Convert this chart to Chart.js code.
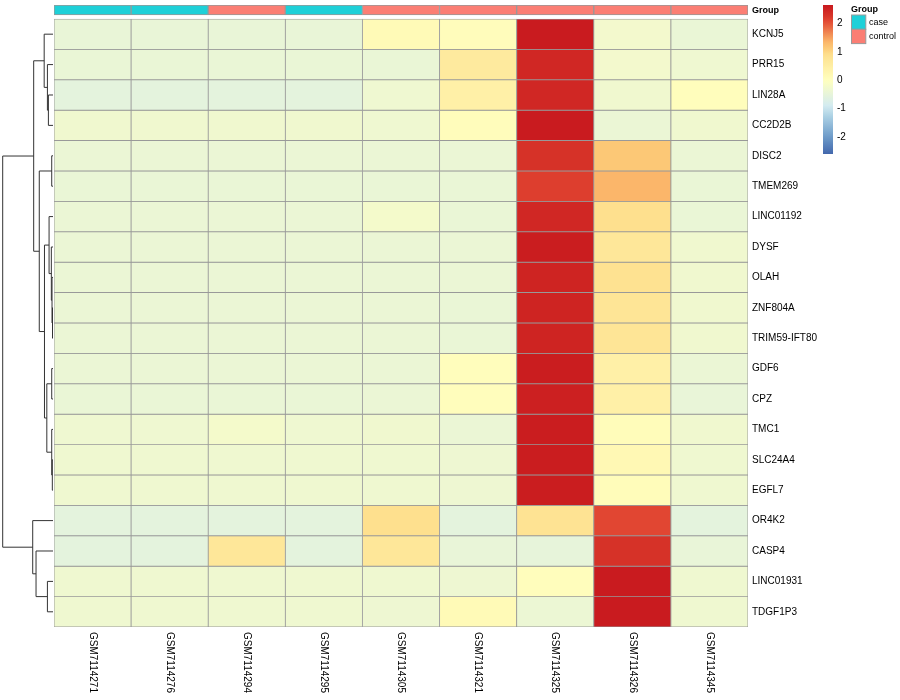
<!DOCTYPE html>
<html>
<head>
<meta charset="utf-8">
<script src="https://cdn.jsdelivr.net/npm/chart.js@4/dist/chart.umd.min.js"></script>
<style>html,body{margin:0;padding:0;background:#fff;}</style>
</head>
<body>
<canvas id="heat-canvas" width="900" height="700"></canvas>
<script>
'use strict';
var samples = ['GSM7114271', 'GSM7114276', 'GSM7114294', 'GSM7114295', 'GSM7114305',
               'GSM7114321', 'GSM7114325', 'GSM7114326', 'GSM7114345'];
var groups = ['case', 'case', 'control', 'case', 'control', 'control', 'control', 'control', 'control'];
var genes = ['KCNJ5', 'PRR15', 'LIN28A', 'CC2D2B', 'DISC2', 'TMEM269', 'LINC01192', 'DYSF', 'OLAH',
             'ZNF804A', 'TRIM59-IFT80', 'GDF6', 'CPZ', 'TMC1', 'SLC24A4', 'EGFL7', 'OR4K2', 'CASP4',
             'LINC01931', 'TDGF1P3'];

// row-scaled expression, one array per gene, same order as samples
var KCNJ5      = [-0.44, -0.44, -0.44, -0.44,  0.15,  0.08,  2.62, -0.25, -0.42];
var PRR15      = [-0.42, -0.42, -0.42, -0.42, -0.42,  0.60,  2.45, -0.25, -0.33];
var LIN28A     = [-0.55, -0.55, -0.55, -0.55, -0.33,  0.45,  2.45, -0.30,  0.05];
var CC2D2B     = [-0.30, -0.30, -0.30, -0.30, -0.33,  0.08,  2.62, -0.40, -0.30];
var DISC2      = [-0.40, -0.40, -0.40, -0.40, -0.40, -0.40,  2.30,  1.15, -0.40];
var TMEM269    = [-0.42, -0.42, -0.42, -0.42, -0.42, -0.42,  2.18,  1.35, -0.42];
var LINC01192  = [-0.40, -0.40, -0.40, -0.40, -0.22, -0.42,  2.45,  0.90, -0.42];
var DYSF       = [-0.40, -0.40, -0.40, -0.40, -0.40, -0.40,  2.60,  0.70, -0.30];
var OLAH       = [-0.40, -0.40, -0.40, -0.40, -0.40, -0.40,  2.50,  0.85, -0.30];
var ZNF804A    = [-0.40, -0.40, -0.40, -0.40, -0.40, -0.42,  2.50,  0.75, -0.30];
var TRIM59     = [-0.40, -0.40, -0.40, -0.40, -0.40, -0.42,  2.50,  0.75, -0.30];
var GDF6       = [-0.40, -0.40, -0.40, -0.40, -0.40,  0.05,  2.60,  0.45, -0.40];
var CPZ        = [-0.42, -0.42, -0.42, -0.42, -0.40,  0.05,  2.55,  0.45, -0.45];
var TMC1       = [-0.33, -0.33, -0.22, -0.33, -0.30, -0.40,  2.60,  0.10, -0.30];
var SLC24A4    = [-0.32, -0.32, -0.32, -0.32, -0.32, -0.35,  2.60,  0.20, -0.32];
var EGFL7      = [-0.32, -0.32, -0.32, -0.32, -0.32, -0.35,  2.60,  0.10, -0.32];
var OR4K2      = [-0.55, -0.55, -0.55, -0.55,  0.90, -0.55,  0.80,  2.10, -0.55];
var CASP4      = [-0.55, -0.55,  0.70, -0.55,  0.70, -0.45, -0.50,  2.30, -0.45];
var LINC01931  = [-0.32, -0.32, -0.32, -0.32, -0.32, -0.35,  0.05,  2.62, -0.32];
var TDGF1P3    = [-0.32, -0.32, -0.32, -0.32, -0.35,  0.15, -0.38,  2.62, -0.32];
var values = [KCNJ5, PRR15, LIN28A, CC2D2B, DISC2, TMEM269, LINC01192, DYSF, OLAH, ZNF804A,
              TRIM59, GDF6, CPZ, TMC1, SLC24A4, EGFL7, OR4K2, CASP4, LINC01931, TDGF1P3];

// row dendrogram: [left, right, height], leaves are row indices
var rowTree = [
  [[0, [1, [2, 3, 4.7], 5.7], 9.0],
   [[4, 5, 1.3],
    [[6, [7, [8, [9, 10, 0.5], 1.0], 1.7], 4.0],
     [[11, 12, 1.3], [13, [14, 15, 0.7], 1.3], 6.3], 8.7], 14.0], 19.7],
  [16, [17, [18, 19, 5.7], 17.3], 20.7],
  51.3];

var legendTicks = [2, 1, 0, -1, -2];
var legendMin = -2.6, legendMax = 2.65;

var groupColors = { 'case': '#1ed0d8', 'control': '#fb7e74' };
var paletteStops = [
  [-2.65, [63, 99, 170]],
  [-2.0, [109, 155, 201]],
  [-1.3, [169, 207, 227]],
  [-0.9, [211, 235, 240]],
  [0.0, [255, 255, 191]],
  [0.9, [254, 224, 142]],
  [1.15, [252, 200, 118]],
  [1.35, [251, 182, 106]],
  [2.1, [225, 70, 50]],
  [2.3, [214, 50, 40]],
  [2.65, [200, 25, 30]]
];

function colorFor(v) {
  var s = paletteStops;
  if (v <= s[0][0]) return 'rgb(' + s[0][1].join(',') + ')';
  for (var i = 1; i < s.length; i++) {
    if (v <= s[i][0]) {
      var t = (v - s[i - 1][0]) / (s[i][0] - s[i - 1][0]);
      var c = s[i - 1][1].map(function(a, k) { return Math.round(a + (s[i][1][k] - a) * t); });
      return 'rgb(' + c.join(',') + ')';
    }
  }
  return 'rgb(' + s[s.length - 1][1].join(',') + ')';
}

var FONT = '"Liberation Sans", Arial, sans-serif';

var datasets = genes.map(function(g, i) {
  return {
    label: g,
    data: samples.map(function() { return [i, i + 1]; }),
    backgroundColor: values[i].map(colorFor),
    borderColor: '#999999',
    borderWidth: 0.8,
    borderSkipped: false,
    grouped: false,
    barPercentage: 1,
    categoryPercentage: 1
  };
});
datasets.push({
  label: 'Group',
  data: samples.map(function() { return [-0.46, -0.13]; }),
  backgroundColor: groups.map(function(g) { return groupColors[g]; }),
  borderColor: '#999999',
  borderWidth: 1,
  borderSkipped: false,
  grouped: false,
  barPercentage: 1,
  categoryPercentage: 1
});

var decorations = {
  id: 'decorations',
  afterDraw: function(chart) {
    var ctx = chart.ctx, area = chart.chartArea;
    var xs = chart.scales.x, ys = chart.scales.y;
    ctx.save();
    ctx.fillStyle = '#000';

    // row labels
    ctx.font = '10px ' + FONT;
    ctx.textAlign = 'left';
    ctx.textBaseline = 'middle';
    genes.forEach(function(g, i) {
      ctx.fillText(g, area.right + 4, ys.getPixelForValue(i + 0.5));
    });
    ctx.font = 'bold 9px ' + FONT;
    ctx.fillText('Group', area.right + 4, ys.getPixelForValue(-0.295));

    // column labels, reading downwards
    ctx.font = '10px ' + FONT;
    samples.forEach(function(s, j) {
      ctx.save();
      ctx.translate(xs.getPixelForValue(j), area.bottom + 5);
      ctx.rotate(Math.PI / 2);
      ctx.textAlign = 'left';
      ctx.textBaseline = 'middle';
      ctx.fillText(s, 0, 0);
      ctx.restore();
    });

    // dendrogram
    var leafX = area.left - 1;
    var k = (leafX - 2.7) / rowTree[2];
    ctx.strokeStyle = '#333';
    ctx.lineWidth = 1;
    ctx.beginPath();
    (function walk(node) {
      if (typeof node === 'number') return { x: leafX, y: ys.getPixelForValue(node + 0.5) };
      var a = walk(node[0]), b = walk(node[1]);
      var x = leafX - node[2] * k;
      ctx.moveTo(a.x, a.y); ctx.lineTo(x, a.y);
      ctx.lineTo(x, b.y); ctx.lineTo(b.x, b.y);
      return { x: x, y: (a.y + b.y) / 2 };
    })(rowTree);
    ctx.stroke();

    // colour legend
    var barX = 823, barW = 10, barTop = 5, barBot = 154;
    var ppu = (barBot - barTop) / (legendMax - legendMin);
    var grad = ctx.createLinearGradient(0, barTop, 0, barBot);
    for (var n = 0; n <= 40; n++) {
      var v = legendMax - (legendMax - legendMin) * n / 40;
      grad.addColorStop(n / 40, colorFor(v));
    }
    ctx.fillStyle = grad;
    ctx.fillRect(barX, barTop, barW, barBot - barTop);
    ctx.fillStyle = '#000';
    ctx.font = '10px ' + FONT;
    ctx.textAlign = 'left';
    ctx.textBaseline = 'middle';
    legendTicks.forEach(function(t) {
      ctx.fillText(String(t), barX + 14, barTop + (legendMax - t) * ppu);
    });

    // group legend
    ctx.font = 'bold 9px ' + FONT;
    ctx.fillText('Group', 851, 10);
    ctx.font = '9px ' + FONT;
    ['case', 'control'].forEach(function(g, i) {
      var y = 15 + i * 14.3;
      ctx.fillStyle = groupColors[g];
      ctx.fillRect(851.5, y, 14.3, 14.3);
      ctx.strokeStyle = '#9a9a9a';
      ctx.strokeRect(851.5, y, 14.3, 14.3);
      ctx.fillStyle = '#000';
      ctx.fillText(g, 869, y + 7.5);
    });
    ctx.restore();
  }
};

var config = {
  type: 'bar',
  data: { labels: samples, datasets: datasets },
  options: {
    responsive: false,
    animation: false,
    devicePixelRatio: 1,
    layout: { padding: { left: 54, right: 152, top: 5, bottom: 73 } },
    scales: {
      x: { type: 'category', display: false, offset: true },
      y: { type: 'linear', display: false, min: -0.46, max: 20, reverse: true }
    },
    plugins: { legend: { display: false }, tooltip: { enabled: false } }
  },
  plugins: [decorations]
};

window.chart = new Chart(document.getElementById('heat-canvas'), config);
</script>
</body>
</html>
